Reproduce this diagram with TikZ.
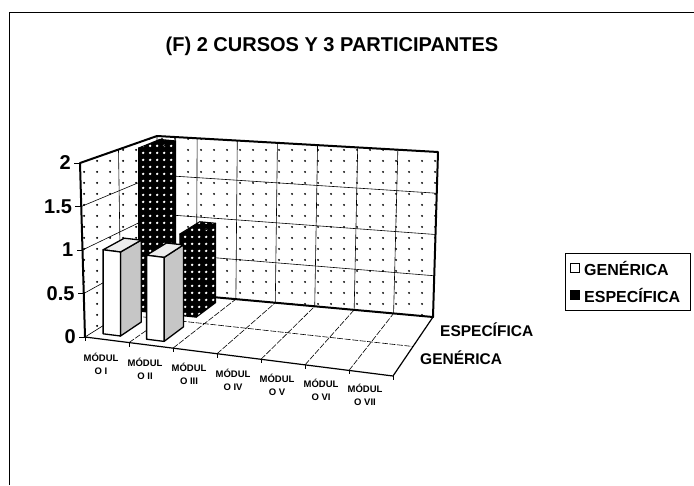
\documentclass[tikz,border=0pt]{standalone}
\usepackage{fontspec}
\setmainfont{Liberation Sans}
\usetikzlibrary{patterns.meta}

\tikzdeclarepattern{name=walldots, type=uncolored,
  bounding box={(0pt,0pt) and (13pt,11pt)}, tile size={(13pt,11pt)},
  code={\fill (6.5pt,5.5pt) circle (1.2pt);}}
\tikzdeclarepattern{name=bardots, type=uncolored,
  bounding box={(0pt,0pt) and (7pt,7pt)}, tile size={(7pt,7pt)},
  code={\fill (3.5pt,3.5pt) circle (1.5pt);}}

\begin{document}
\begin{tikzpicture}[x=1pt,y=-1pt,
    wall/.style={preaction={fill=white},pattern=walldots,pattern color=black},
    grid line/.style={line width=0.6pt},
    floor line/.style={line width=0.6pt,dash pattern=on 6pt off 1.5pt},
    edge line/.style={line width=2pt,line join=round},
    dark face/.style={preaction={fill=black},pattern=bardots,pattern color=white,draw=black,line width=1pt,line join=round},
    light front/.style={fill=white,draw=black,line width=1.3pt,line join=round},
    light side/.style={fill=gray!45,draw=black,line width=1.3pt,line join=round},
    light top/.style={fill=gray!15,draw=black,line width=1.3pt,line join=round},
    ylab/.style={font=\fontsize{20}{20}\selectfont\bfseries,inner sep=0pt,anchor=east},
    xlab/.style={font=\fontsize{9.5}{13}\selectfont\bfseries,inner sep=0pt,align=center,anchor=north},
    lab/.style={font=\fontsize{15.5}{16}\selectfont\bfseries,inner sep=0pt,anchor=west},
    legbox/.style={draw=black,line width=1.5pt,minimum size=9pt,inner sep=0pt}]

  \useasboundingbox (0,0) rectangle (694,485);
  \draw[line width=0.8pt] (9,485) -- (9,12) -- (694,12);

  \node[font=\fontsize{20}{20}\selectfont\bfseries] (title) at (332,46) {(F) 2 CURSOS Y 3 PARTICIPANTES};

  % floor
  \fill[white] (85,337) -- (157,292) -- (433,317) -- (393,376) -- cycle;
  \foreach \u in {1,...,6}
    \draw[floor line] ({85+44*\u},{337+5.57*\u}) -- ({157+39.43*\u},{292+3.57*\u});
  \draw[floor line] (121,314.5) -- (413,346.5);
  \draw[line width=1.2pt] (85,337) -- (393,376) -- (433,317);
  \foreach \u in {0,...,7}
    \draw[line width=0.8pt] ({85+44*\u},{337+5.57*\u}) -- ++(0,4);

  % walls
  \path[wall] (85,337) -- (80,163) -- (157,136) -- (157,292) -- cycle;
  \path[wall] (157,292) -- (157,136) -- (438,152) -- (433,317) -- cycle;
  \foreach \k in {0.5,1,1.5}
    \draw[grid line] ({85-2.5*\k},{337-87*\k}) -- (157,{292-78*\k}) -- ({433+2.5*\k},{317-82.5*\k});
  \draw[grid line] (121,314.5) -- (118.5,149.5);
  \draw[grid line] (85,337) -- (157,292) -- (157,136);
  \foreach \u in {1,...,6}
    \draw[grid line] ({157+39.43*\u},{292+3.57*\u}) -- ({157+40.14*\u},{136+2.29*\u});
  \draw[edge line] (85,337) -- (80,163) -- (157,136) -- (438,152) -- (433,317) -- (157,292);

  \foreach \k/\t [count=\i] in {0/0,0.5/0.5,1/1,1.5/1.5,2/2} {
    \draw[line width=1pt] ({85-2.5*\k},{337-87*\k}) -- ++(-6,0);
    \node[ylab] (ytick\i) at ({76-2.5*\k},{337-87*\k}) {\t};
  }

  % ESPECIFICA bars
  \draw[dark face] (196.3,317.2) -- (215.6,302.7) -- (215.6,223.2) -- (196.3,235.7) -- cycle;
  \draw[dark face] (179.8,234) -- (196.3,235.7) -- (215.6,223.2) -- (199.7,221.7) -- cycle;
  \draw[dark face] (179.8,315.5) -- (196.3,317.2) -- (196.3,235.7) -- (179.8,234) -- cycle;

  \draw[dark face] (155,312.8) -- (175.7,298.9) -- (175.7,140.9) -- (155,149.8) -- cycle;
  \draw[dark face] (138.5,148.1) -- (155,149.8) -- (175.7,140.9) -- (159.8,139.4) -- cycle;
  \draw[dark face] (138.5,311.1) -- (155,312.8) -- (155,149.8) -- (138.5,148.1) -- cycle;

  % GENERICA bars
  \draw[light side] (164.1,341.4) -- (183.4,326.9) -- (183.4,244.9) -- (164.1,257.4) -- cycle;
  \draw[light top] (146.6,255.2) -- (164.1,257.4) -- (183.4,244.9) -- (166.5,243) -- cycle;
  \draw[light front] (146.6,339.2) -- (164.1,341.4) -- (164.1,257.4) -- (146.6,255.2) -- cycle;

  \draw[light side] (120.5,336) -- (141.2,322.1) -- (141.2,240.1) -- (120.5,252) -- cycle;
  \draw[light top] (103.1,249.8) -- (120.5,252) -- (141.2,240.1) -- (124.3,238.2) -- cycle;
  \draw[light front] (103.1,333.8) -- (120.5,336) -- (120.5,252) -- (103.1,249.8) -- cycle;

  % axis labels
  \foreach \m [count=\i from 0] in {I,II,III,IV,V,VI,VII}
    \node[xlab] (mod\i) at ({101+44*\i},{352.5+5.3*\i}) {MÓDUL\\O \m};
  \node[lab] (serE) at (440,330) {ESPECÍFICA};
  \node[lab] (serG) at (420,358) {GENÉRICA};

  % legend
  \draw[line width=0.8pt] (565,253) rectangle (690,310);
  \node[legbox,fill=white] (keyG) at (575,268) {};
  \node[lab,font=\fontsize{16}{16}\selectfont\bfseries] (legG) at (584,268) {GENÉRICA};
  \node[legbox,fill=black] (keyE) at (575,295) {};
  \node[lab,font=\fontsize{16}{16}\selectfont\bfseries] (legE) at (584,295) {ESPECÍFICA};
\end{tikzpicture}
\end{document}
